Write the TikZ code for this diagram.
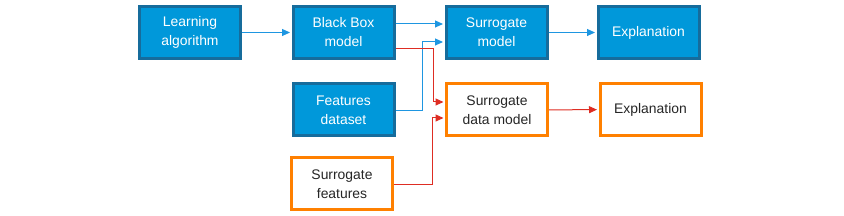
\documentclass[tikz,border=0pt]{standalone}
\usepackage{fontspec}
\setmainfont{Liberation Sans}
\usepackage{xcolor}
\usetikzlibrary{arrows.meta, positioning}

\definecolor{boxblue}{RGB}{0,152,218}
\definecolor{edgeblue}{RGB}{22,108,156}
\definecolor{lineblue}{RGB}{30,150,225}
\definecolor{linered}{RGB}{222,45,35}
\definecolor{boxorange}{RGB}{255,128,0}

\tikzset{
    bluebox/.style={draw=edgeblue, fill=boxblue, line width=3pt, text=white,
        minimum width=101pt, minimum height=52pt, align=center,
        font=\fontsize{13.9}{19}\selectfont},
    orangebox/.style={draw=boxorange, fill=white, line width=3pt, text=black!85,
        minimum width=101pt, minimum height=52pt, align=center,
        font=\fontsize{13.9}{19}\selectfont},
    bluearrow/.style={draw=lineblue, line width=1pt, -{Triangle[length=8pt,width=7pt,fill=lineblue]}, shorten >=1.5pt},
    redarrow/.style={draw=linered, line width=1pt, -{Triangle[length=8pt,width=7pt,fill=linered]}, shorten >=1.5pt}
}

\begin{document}
\begin{tikzpicture}[x=1pt, y=1pt]
    \useasboundingbox (0,0) rectangle (844,216);

    % Black box path
    \node[bluebox] (learn) at (190,183.5) {Learning\\algorithm};
    \node[bluebox] (blackbox) at (343.5,183.5) {Black Box\\model};
    \node[bluebox] (feat) at (343.5,106) {Features\\dataset};
    \node[bluebox] (smodel) at (496.5,183.5) {Surrogate\\model};
    \node[bluebox] (expl) at (648.5,183.5) {Explanation};

    % Surrogate data path
    \node[orangebox] (sfeat) at (342,32) {Surrogate\\features};
    \node[orangebox] (sdata) at (497,106) {Surrogate\\data model};
    \node[orangebox] (expl2) at (650.5,106.5) {Explanation};

    % Connector ends
    \coordinate (bbtop) at ([yshift=8.5pt]blackbox.east);
    \coordinate (bblow) at ([yshift=-16.5pt]blackbox.east);

    % Blue connectors
    \draw[bluearrow] (learn) -- (blackbox);
    \draw[bluearrow] (bbtop) -- (bbtop -| smodel.west);
    \draw[bluearrow] ([yshift=-1pt]feat.east) -- ++(27,0) |- ([yshift=-9.5pt]smodel.west);
    \draw[bluearrow] (smodel) -- (expl);

    % Red connectors
    \draw[redarrow] (bblow) -- ++(38,0) |- ([yshift=8pt]sdata.west);
    \draw[redarrow] ([yshift=-1pt]sfeat.east) -- ++(38.5,0) |- ([yshift=-8pt]sdata.west);
    \draw[redarrow] (sdata) -- (expl2);
\end{tikzpicture}
\end{document}
